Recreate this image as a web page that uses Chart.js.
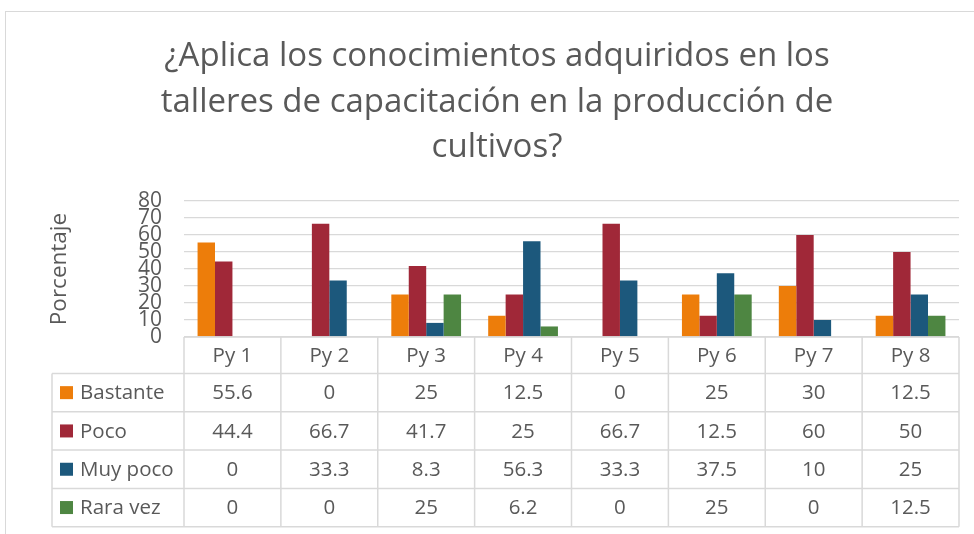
<!DOCTYPE html>
<html>
<head>
<meta charset="utf-8">
<script src="https://cdn.jsdelivr.net/npm/chart.js@4/dist/chart.umd.min.js"></script>
<style>
  html, body { margin: 0; padding: 0; background: #ffffff; overflow: hidden; }
  #wrap { width: 974px; height: 534px; }
</style>
</head>
<body>
<div id="wrap"><canvas id="c" width="974" height="534"></canvas></div>
<script>
const titleLines = ['¿Aplica los conocimientos adquiridos en los', 'talleres de capacitación en la producción de', 'cultivos?'];
const yAxisTitle = 'Porcentaje';
const categories = ['Py 1', 'Py 2', 'Py 3', 'Py 4', 'Py 5', 'Py 6', 'Py 7', 'Py 8'];
const seriesNames = ['Bastante', 'Poco', 'Muy poco', 'Rara vez'];
const bastante = [55.6, 0, 25, 12.5, 0, 25, 30, 12.5];
const poco = [44.4, 66.7, 41.7, 25, 66.7, 12.5, 60, 50];
const muyPoco = [0, 33.3, 8.3, 56.3, 33.3, 37.5, 10, 25];
const raraVez = [0, 0, 25, 6.2, 0, 25, 0, 12.5];
const yMin = 0, yMax = 80, yStep = 10;

const seriesColors = ['#ED7D0A', '#A02838', '#1C587C', '#4E8642'];
const seriesValues = [bastante, poco, muyPoco, raraVez];
const TEXT = '#595959';
const LINE = '#d9d9d9';
const FONT = "'Open Sans', sans-serif";

const frameAndTable = {
  id: 'frameAndTable',
  beforeDraw(chart) {
    const ctx = chart.ctx;
    ctx.save();
    ctx.strokeStyle = LINE;
    ctx.lineWidth = 1;
    ctx.strokeRect(5.5, 11.5, 1200, 800);
    ctx.restore();
  },
  afterDraw(chart) {
    const ctx = chart.ctx;
    const xs = chart.scales.x;
    const ca = chart.chartArea;
    const n = categories.length;
    const colW = (xs.right - xs.left) / n;
    const top = ca.bottom;
    const headerH = 36.5;
    const rowH = 38.3;
    const legendLeft = 52;
    const rowsTop = top + headerH;
    const bottom = rowsTop + rowH * seriesNames.length;
    ctx.save();
    ctx.strokeStyle = LINE;
    ctx.lineWidth = 1.5;
    ctx.beginPath();
    ctx.moveTo(xs.left, top); ctx.lineTo(xs.right, top);
    for (let r = 0; r <= seriesNames.length; r++) {
      const y = rowsTop + r * rowH;
      ctx.moveTo(legendLeft, y); ctx.lineTo(xs.right, y);
    }
    for (let i = 0; i <= n; i++) {
      const x = xs.left + i * colW;
      ctx.moveTo(x, top); ctx.lineTo(x, bottom);
    }
    ctx.moveTo(legendLeft, rowsTop); ctx.lineTo(legendLeft, bottom);
    ctx.stroke();

    ctx.fillStyle = TEXT;
    ctx.font = '20.5px ' + FONT;
    ctx.textBaseline = 'middle';
    ctx.textAlign = 'center';
    for (let i = 0; i < n; i++) {
      ctx.fillText(categories[i], xs.left + (i + 0.5) * colW, top + headerH / 2 + 1);
    }
    for (let r = 0; r < seriesNames.length; r++) {
      const cy = rowsTop + (r + 0.5) * rowH;
      ctx.fillStyle = seriesColors[r];
      ctx.fillRect(60, cy - 6.5, 13, 13);
      ctx.fillStyle = TEXT;
      ctx.textAlign = 'left';
      ctx.fillText(seriesNames[r], 80, cy + 1);
      ctx.textAlign = 'center';
      for (let i = 0; i < n; i++) {
        ctx.fillText(String(seriesValues[r][i]), xs.left + (i + 0.5) * colW, cy + 1);
      }
    }
    ctx.restore();
  }
};

new Chart(document.getElementById('c'), {
  type: 'bar',
  data: {
    labels: categories,
    datasets: seriesNames.map((name, i) => ({
      label: name,
      data: seriesValues[i],
      backgroundColor: seriesColors[i],
      borderWidth: 0,
      barPercentage: 1,
      categoryPercentage: 0.72,
      yAxisID: 'y'
    }))
  },
  options: {
    responsive: false,
    devicePixelRatio: 1,
    animation: false,
    layout: { padding: { left: 20, right: 0, top: 0, bottom: 197 } },
    plugins: {
      legend: { display: false },
      tooltip: { enabled: false },
      title: {
        display: true,
        text: titleLines,
        color: TEXT,
        font: { family: FONT, size: 33, weight: 'normal', lineHeight: 1.379 },
        padding: { top: 34, bottom: 30.5 }
      }
    },
    scales: {
      x: {
        display: false
      },
      y: {
        position: 'left',
        min: yMin,
        max: yMax,
        border: { display: false },
        grid: { color: LINE, lineWidth: 1.3, drawTicks: false },
        ticks: {
          stepSize: yStep,
          autoSkip: false,
          color: TEXT,
          padding: 22,
          font: { family: FONT, size: 21, lineHeight: 1 }
        },
        title: {
          display: true,
          text: yAxisTitle,
          color: TEXT,
          font: { family: FONT, size: 22.5, lineHeight: 1.2 },
          padding: { top: 26.5, bottom: 0 }
        },
        afterFit(scale) { scale.width = 164; }
      },
      yRight: {
        position: 'right',
        display: true,
        grid: { display: false },
        border: { display: false },
        ticks: { display: false },
        afterFit(scale) { scale.width = 15; }
      }
    }
  },
  plugins: [frameAndTable]
});
</script>
</body>
</html>
